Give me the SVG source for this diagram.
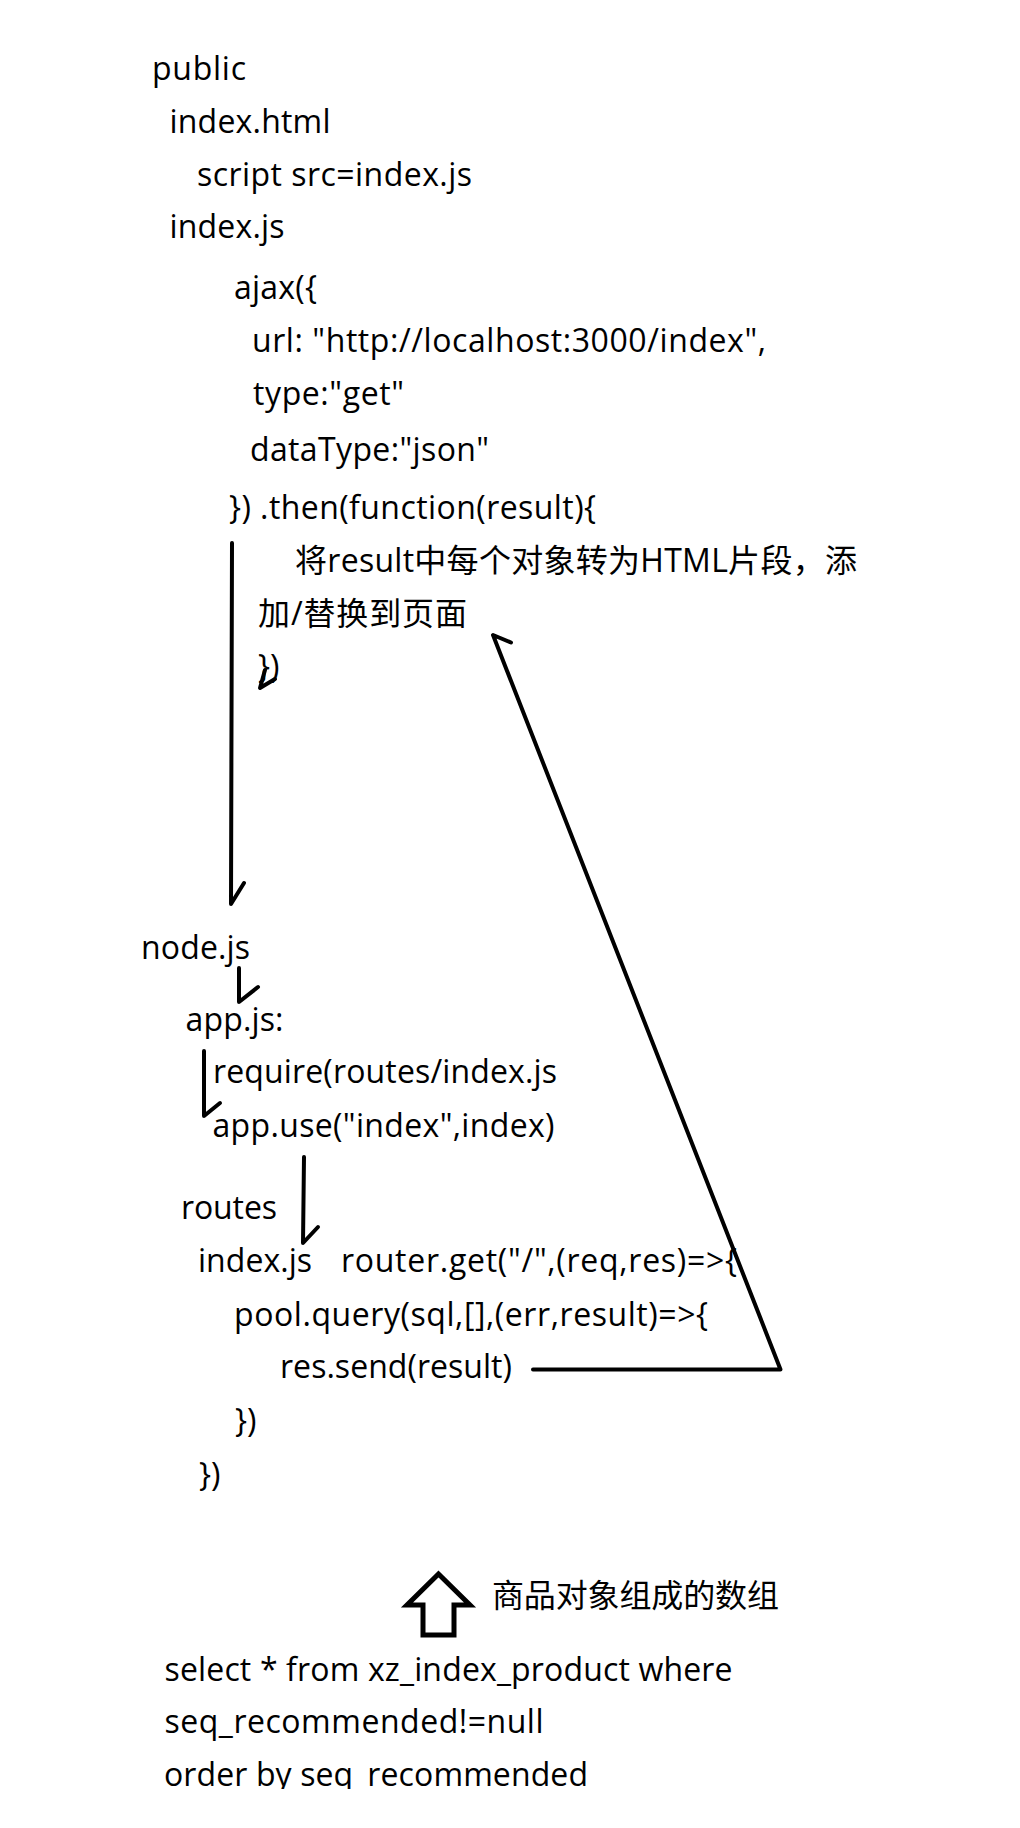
<svg xmlns="http://www.w3.org/2000/svg" width="1020" height="1828" viewBox="0 0 1020 1828">
<style>
.t{font-family:"Open Sans","Noto Sans CJK SC",sans-serif;font-size:32px;fill:#000}
.ln{fill:none;stroke:#000;stroke-width:4;stroke-linecap:round;stroke-linejoin:round}
.hollow{fill:#fff;stroke:#000;stroke-width:5;stroke-linejoin:miter}
</style>
<defs>
<clipPath id="pageClip"><rect x="0" y="0" width="1020" height="1789"/></clipPath>
</defs>
<rect x="0" y="0" width="1020" height="1828" fill="#fff"/>
<g id="public-folder">
<text class="t" x="152" y="80" textLength="94" lengthAdjust="spacing">public</text>
<text class="t" x="169.5" y="133" textLength="161" lengthAdjust="spacing">index.html</text>
<text class="t" x="197" y="186" textLength="275" lengthAdjust="spacing">script src=index.js</text>
</g>
<g id="index-js">
<text class="t" x="169.5" y="238" textLength="115" lengthAdjust="spacing">index.js</text>
<text class="t" x="234" y="299" textLength="83" lengthAdjust="spacing">ajax({</text>
<text class="t" x="252" y="352" textLength="514" lengthAdjust="spacing">url: "http://localhost:3000/index",</text>
<text class="t" x="253" y="405" textLength="151" lengthAdjust="spacing">type:"get"</text>
<text class="t" x="250" y="461" textLength="239" lengthAdjust="spacing">dataType:"json"</text>
<text class="t" x="229" y="519" textLength="367" lengthAdjust="spacing">}) .then(function(result){</text>
<text class="t" x="295" y="572" textLength="562" lengthAdjust="spacing">将result中每个对象转为HTML片段，添</text>
<text class="t" x="258" y="625" textLength="209" lengthAdjust="spacing">加/替换到页面</text>
<text class="t" x="258" y="678">})</text>
</g>
<g id="node-js">
<text class="t" x="141" y="959" textLength="109" lengthAdjust="spacing">node.js</text>
</g>
<g id="app-js">
<text class="t" x="185.5" y="1031" textLength="98" lengthAdjust="spacing">app.js:</text>
<text class="t" x="213" y="1083" textLength="344" lengthAdjust="spacing">require(routes/index.js</text>
<text class="t" x="212.5" y="1137" textLength="342" lengthAdjust="spacing">app.use("index",index)</text>
</g>
<g id="routes">
<text class="t" x="181" y="1219" textLength="96" lengthAdjust="spacing">routes</text>
<text class="t" x="198" y="1272" textLength="114" lengthAdjust="spacing">index.js</text>
<text class="t" x="341" y="1272" textLength="396" lengthAdjust="spacing">router.get("/",(req,res)=&gt;{</text>
<text class="t" x="234" y="1326" textLength="474" lengthAdjust="spacing">pool.query(sql,[],(err,result)=&gt;{</text>
<text class="t" x="280" y="1378" textLength="232" lengthAdjust="spacing">res.send(result)</text>
<text class="t" x="235" y="1432">})</text>
<text class="t" x="199" y="1486">})</text>
</g>
<g id="result-label">
<text class="t" x="492" y="1606.5" textLength="287" lengthAdjust="spacing">商品对象组成的数组</text>
</g>
<g id="sql" clip-path="url(#pageClip)">
<text class="t" x="164.5" y="1681" textLength="568" lengthAdjust="spacing">select * from xz_index_product where</text>
<text class="t" x="164.5" y="1733" textLength="379" lengthAdjust="spacing">seq_recommended!=null</text>
<text class="t" x="164" y="1786" textLength="424" lengthAdjust="spacing">order by seq_recommended</text>
</g>
<g id="connectors">
<path class="ln" d="M232,543 L231,904 L244,883"/>
<path class="ln" d="M265,670 L260,688 L275,679"/>
<path class="ln" d="M239,968 L239,1002 L258,987"/>
<path class="ln" d="M204,1051 L204,1116 L220,1103"/>
<path class="ln" d="M304,1157 L303,1243 L318,1227"/>
<path class="ln" d="M533,1369.5 L780.5,1369.5 L493,635 L511,642.5"/>
<polygon class="hollow" points="438.5,1574 470,1605 454,1605 454,1635 423,1635 423,1605 407,1605"/>
</g>
</svg>
